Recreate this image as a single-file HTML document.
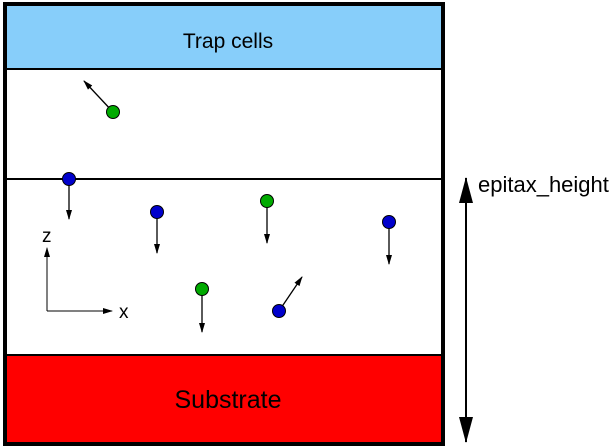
<!DOCTYPE html>
<html><head><meta charset="utf-8"><style>
html,body{margin:0;padding:0;background:#fff;}
svg{display:block;font-family:"Liberation Sans",sans-serif;}
</style></head><body>
<svg width="612" height="447" viewBox="0 0 612 447">
<defs>
<marker id="ah" markerWidth="10" markerHeight="8" refX="9" refY="4" orient="auto" markerUnits="userSpaceOnUse">
<path d="M0,1 L10,4 L0,7 Z" fill="#000"/></marker>
<marker id="big" markerWidth="26" markerHeight="14" refX="25" refY="7" orient="auto-start-reverse" markerUnits="userSpaceOnUse">
<path d="M0,0 L26,7 L0,14 Z" fill="#000"/></marker>
</defs>
<rect x="5" y="4" width="438" height="65" fill="#87cefa"/>
<rect x="5" y="355" width="438" height="89" fill="#ff0000"/>
<line x1="5" y1="69" x2="443" y2="69" stroke="#000" stroke-width="2"/>
<line x1="5" y1="179" x2="443" y2="179" stroke="#000" stroke-width="2"/>
<line x1="5" y1="355" x2="443" y2="355" stroke="#000" stroke-width="2"/>
<rect x="5" y="4" width="438" height="440" fill="none" stroke="#000" stroke-width="4"/>
<text x="228" y="48" font-size="21" text-anchor="middle">Trap cells</text>
<text x="228" y="408" font-size="25" text-anchor="middle">Substrate</text>
<line x1="466" y1="178" x2="466" y2="442" stroke="#000" stroke-width="2" marker-start="url(#big)" marker-end="url(#big)"/>
<text x="478" y="192" font-size="22">epitax_height</text>
<g>
<line x1="47" y1="311" x2="47" y2="248" stroke="#000" stroke-width="1" marker-end="url(#ah)"/>
<line x1="47" y1="311" x2="112" y2="311" stroke="#000" stroke-width="1" marker-end="url(#ah)"/>
<text x="42" y="242" font-size="19">z</text>
<text x="119" y="318" font-size="19">x</text>
</g>
<g id="parts"></g>
</svg>
<script>
const px=[113,69,157,267,389,202,279];
const py=[112,179,212,201,222,289,311];
const tx=[84,69,157,267,389,202,302];
const ty=[81,219,253,243,264,332,277];
const kind=['green','blue','blue','green','blue','green','blue'];
const g=document.getElementById('parts');
const NS='http://www.w3.org/2000/svg';
for(let i=0;i<px.length;i++){
 const l=document.createElementNS(NS,'line');
 l.setAttribute('x1',px[i]);l.setAttribute('y1',py[i]);l.setAttribute('x2',tx[i]);l.setAttribute('y2',ty[i]);
 l.setAttribute('stroke','#000');l.setAttribute('stroke-width','1.3');l.setAttribute('marker-end','url(#ah)');
 
 
 g.appendChild(l);
 const c=document.createElementNS(NS,'circle');
 c.setAttribute('cx',px[i]);c.setAttribute('cy',py[i]);c.setAttribute('r','6.5');
 c.setAttribute('fill',kind[i]==='green'?'#00aa00':'#0000cc');c.setAttribute('stroke','#000');c.setAttribute('stroke-width','1');
 
 
 g.appendChild(c);
}
</script>
</body></html>
